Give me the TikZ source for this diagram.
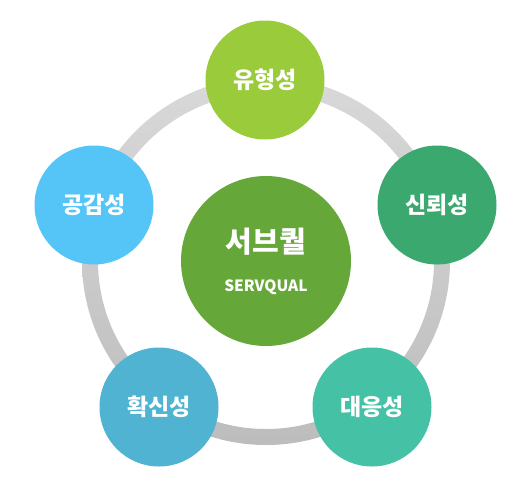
\documentclass[tikz,border=0pt]{standalone}
\usepackage{fontspec}
\setmainfont{Noto Sans CJK KR}
\begin{document}
\begin{tikzpicture}[x=1pt,y=-1pt,
  petal/.style={circle,minimum size=119pt,inner sep=0pt,text=white,font=\fontsize{23}{26}\selectfont\bfseries},
  hub/.style={circle,minimum size=170pt,inner sep=0pt,fill=hubgreen}]
\definecolor{c1}{HTML}{9ACB3B}
\definecolor{c2}{HTML}{3BA86F}
\definecolor{c3}{HTML}{45C2A5}
\definecolor{c4}{HTML}{4FB3D1}
\definecolor{c5}{HTML}{55C5F8}
\definecolor{hubgreen}{HTML}{65A738}
\path[use as bounding box] (0,0) rectangle (522,491);
\coordinate (o) at (266,261);
\shade[top color=black!15,bottom color=black!26,even odd rule] (o) circle[radius=184] (o) circle[radius=168];
\node[hub] (hub) at (o) {};
\node[text=white,font=\fontsize{29}{32}\selectfont\bfseries] (t1) at (266,242) {서브퀄};
\node[text=white,font=\fontsize{15.5}{18}\selectfont\bfseries] (t2) at (266,287) {SERVQUAL};
\node[petal,fill=c1] (p1) at (265,80) {유형성};
\node[petal,fill=c2] (p2) at (437,205) {신뢰성};
\node[petal,fill=c3] (p3) at (372,407) {대응성};
\node[petal,fill=c4] (p4) at (159,407) {확신성};
\node[petal,fill=c5] (p5) at (94,205) {공감성};
\end{tikzpicture}
\end{document}
